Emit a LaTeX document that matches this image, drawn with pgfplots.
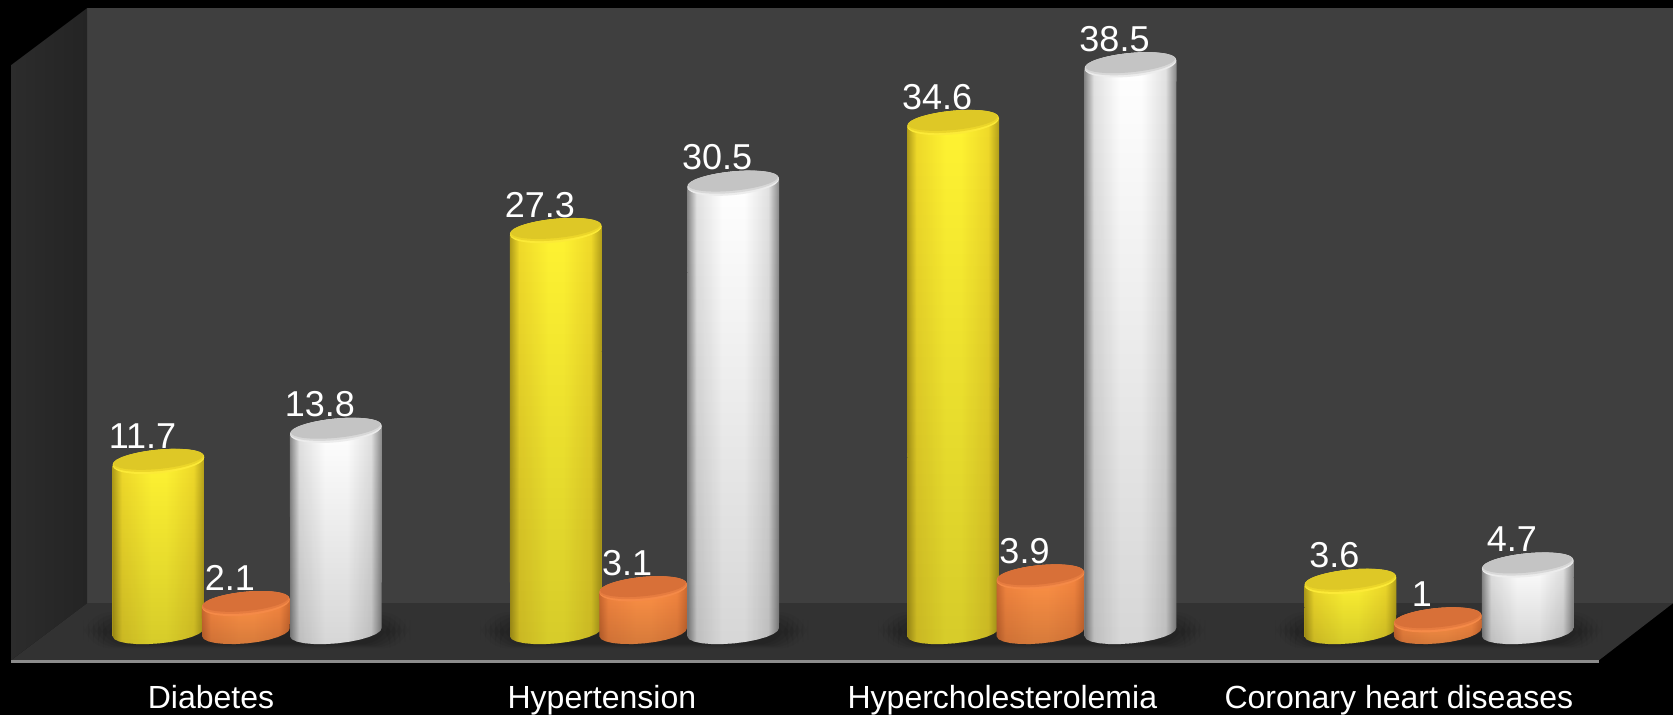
\documentclass[border=0pt]{standalone}
\usepackage{fontspec}
\setmainfont{Liberation Sans}
\usepackage{pgfplots}
\pgfplotsset{compat=1.18}
\usetikzlibrary{fadings}

% Horizontal lighting across the cylinder bodies
\definecolor{yE}{RGB}{178,158,26}\definecolor{yM}{RGB}{240,218,42}\definecolor{yC}{RGB}{255,243,50}
\definecolor{oE}{RGB}{205,105,48}\definecolor{oM}{RGB}{245,134,64}\definecolor{oC}{RGB}{255,146,70}
\definecolor{wE}{RGB}{135,135,135}\definecolor{wM}{RGB}{226,226,226}\definecolor{wC}{RGB}{255,255,255}
\pgfdeclarehorizontalshading{bodyY}{100bp}{color(0bp)=(yE);color(25bp)=(yE);color(30bp)=(yM);color(46bp)=(yC);color(54bp)=(yC);color(69bp)=(yM);color(75bp)=(yE);color(100bp)=(yE)}
\pgfdeclarehorizontalshading{bodyO}{100bp}{color(0bp)=(oE);color(25bp)=(oE);color(30bp)=(oM);color(46bp)=(oC);color(54bp)=(oC);color(69bp)=(oM);color(75bp)=(oE);color(100bp)=(oE)}
\pgfdeclarehorizontalshading{bodyW}{100bp}{color(0bp)=(wE);color(25bp)=(wE);color(30bp)=(wM);color(44bp)=(wC);color(56bp)=(wC);color(69bp)=(wM);color(75bp)=(wE);color(100bp)=(wE)}

\tikzfading[name=downdark, top color=transparent!100, bottom color=transparent!84]

% Top caps of the cylinders, tilted like the perspective of the floor: a bright rim fading into a duller face
\newcommand\capmark[6]{%
  \pgfdeclareplotmark{top#1}{%
    \pgfscope
    \pgftransformrotate{5.5}%
    \pgfsetfillcolor{#3}%
    \pgfpathellipse{\pgfpointorigin}{\pgfqpoint{#2pt}{0pt}}{\pgfqpoint{0pt}{5.9pt}}%
    \pgfusepath{fill}%
    \pgfsetfillcolor{#4}%
    \pgfpathellipse{\pgfqpoint{0pt}{0.55pt}}{\pgfqpoint{#2pt}{0pt}}{\pgfqpoint{0pt}{5.35pt}}%
    \pgfusepath{fill}%
    \pgfsetfillcolor{#5}%
    \pgfpathellipse{\pgfqpoint{0pt}{1.1pt}}{\pgfqpoint{#6pt}{0pt}}{\pgfqpoint{0pt}{4.8pt}}%
    \pgfusepath{fill}%
    \endpgfscope}%
}
\definecolor{yR}{RGB}{252,234,55}\definecolor{yH}{RGB}{236,214,42}\definecolor{yT}{RGB}{222,200,38}
\definecolor{oR}{RGB}{245,138,72}\definecolor{oH}{RGB}{230,124,64}\definecolor{oT}{RGB}{216,112,56}
\definecolor{wR}{RGB}{236,236,236}\definecolor{wH}{RGB}{216,216,216}\definecolor{wT}{RGB}{196,196,196}
\capmark{Y}{23}{yR}{yH}{yT}{22.5}
\capmark{O}{22}{oR}{oH}{oT}{21.5}
\capmark{W}{23}{wR}{wH}{wT}{22.5}

% Cylinder wall with its rounded foot: centre, half width in 1/397.3 of a category, value, shading
\newcommand\cylbody[4]{%
  \gdef\pts{}%
  \foreach \th in {180,195,...,360}{%
    \pgfmathsetmacro\px{#1+(#2*cos(\th)*cos(5.5)-11.2*sin(\th)*sin(5.5))/397.3}%
    \pgfmathsetmacro\py{0.17+(#2*cos(\th)*sin(5.5)+11.2*sin(\th)*cos(5.5))/14.8}%
    \xdef\pts{\pts (\px,\py)}%
  }%
  \pgfmathsetmacro\xl{#1-#2/397.3}\pgfmathsetmacro\xr{#1+#2/397.3}%
  \pgfmathsetmacro\yul{#3-0.3}\pgfmathsetmacro\yur{#3+0.3}%
  \edef\cmd{\noexpand\addplot[shade,shading=#4,draw=none,mark=none] coordinates {\pts (\xr,\yur) (\xl,\yul)} --cycle;}\cmd
  \edef\cmd{\noexpand\addplot[fill=black,path fading=downdark,draw=none,mark=none] coordinates {\pts (\xr,\yur) (\xl,\yul)} --cycle;}\cmd
}

% Soft shadow on the floor under one group
\newcommand\floorshadow[2]{%
  \fill[black,opacity=0.035,rounded corners=14pt] (axis cs:#1,612) rectangle (axis cs:#2,648);
  \fill[black,opacity=0.045,rounded corners=14pt] (axis cs:#1+5,614) rectangle (axis cs:#2-5,647);
  \fill[black,opacity=0.055,rounded corners=14pt] (axis cs:#1+10,616) rectangle (axis cs:#2-10,646);
  \fill[black,opacity=0.055,rounded corners=14pt] (axis cs:#1+15,618) rectangle (axis cs:#2-15,645);
  \fill[black,opacity=0.055,rounded corners=14pt] (axis cs:#1+20,620) rectangle (axis cs:#2-20,644);
}

\begin{document}
\begin{tikzpicture}
% Room: page background, walls and floor
\begin{axis}[name=room,at={(0,0)},anchor=south west,scale only axis,width=836.5pt,height=357.5pt,
  xmin=0,xmax=1673,ymin=0,ymax=715,y dir=reverse,hide axis,clip=false]
  \fill[black] (axis cs:0,0) rectangle (axis cs:1673,715);
  \fill[fill={rgb,255:red,63;green,63;blue,63}] (axis cs:87,8) rectangle (axis cs:1673,603);
  \shade[left color={rgb,255:red,44;green,44;blue,44},right color={rgb,255:red,36;green,36;blue,36}]
    (axis cs:11,65) -- (axis cs:87,8) -- (axis cs:87,603) -- (axis cs:11,660) -- cycle;
  \fill[fill={rgb,255:red,50;green,50;blue,50}]
    (axis cs:87,603) -- (axis cs:1673,603) -- (axis cs:1599,660) -- (axis cs:11,660) -- cycle;
  \fill[fill={rgb,255:red,140;green,140;blue,140}] (axis cs:11,660) rectangle (axis cs:1599,663);
  \floorshadow{83}{410}
  \floorshadow{480}{808}
  \floorshadow{878}{1205}
  \floorshadow{1275}{1602}
\end{axis}
% Values and cylinders
\begin{axis}[at={(0,0)},anchor=south west,scale only axis,width=836.5pt,height=357.5pt,
  xmin=-0.619,xmax=3.592,ymin=-5.44,ymax=42.87,clip=false,
  axis line style={draw=none},major tick length=0pt,
  ytick=\empty,
  xtick={-0.088,0.896,1.904,2.902},
  xticklabels={Diabetes,Hypertension,Hypercholesterolemia,Coronary heart diseases},
  xticklabel style={anchor=base,yshift=3.5pt,text=white,font=\fontsize{16}{18}\selectfont,inner sep=0pt},
  /pgf/number format/assume math mode=true,
  every node near coord/.style={anchor=base,xshift=-8pt,yshift=6.75pt,text=white,inner sep=0pt,
    font=\fontsize{18}{21}\selectfont}]
  % Data labels lie behind the caps
  \addplot[draw=none,mark=none,nodes near coords] coordinates {(-0.22,11.7) (0.78,27.3) (1.78,34.6) (2.78,3.6)};
  \addplot[draw=none,mark=none,nodes near coords] coordinates {(0,2.1) (1,3.1) (2,3.9) (3,1)};
  \addplot[draw=none,mark=none,nodes near coords] coordinates {(0.2265,13.8) (1.2265,30.5) (2.2265,38.5) (3.2265,4.7)};
  % Yellow series
  \cylbody{-0.22}{46}{11.7}{bodyY}
  \cylbody{0.78}{46}{27.3}{bodyY}
  \cylbody{1.78}{46}{34.6}{bodyY}
  \cylbody{2.78}{46}{3.6}{bodyY}
  \addplot[only marks,mark=topY] coordinates {(-0.22,11.7) (0.78,27.3) (1.78,34.6) (2.78,3.6)};
  % Orange series
  \cylbody{0}{44}{2.1}{bodyO}
  \cylbody{1}{44}{3.1}{bodyO}
  \cylbody{2}{44}{3.9}{bodyO}
  \cylbody{3}{44}{1}{bodyO}
  \addplot[only marks,mark=topO] coordinates {(0,2.1) (1,3.1) (2,3.9) (3,1)};
  % White series
  \cylbody{0.2265}{46}{13.8}{bodyW}
  \cylbody{1.2265}{46}{30.5}{bodyW}
  \cylbody{2.2265}{46}{38.5}{bodyW}
  \cylbody{3.2265}{46}{4.7}{bodyW}
  \addplot[only marks,mark=topW] coordinates {(0.2265,13.8) (1.2265,30.5) (2.2265,38.5) (3.2265,4.7)};
\end{axis}
\end{tikzpicture}
\end{document}
